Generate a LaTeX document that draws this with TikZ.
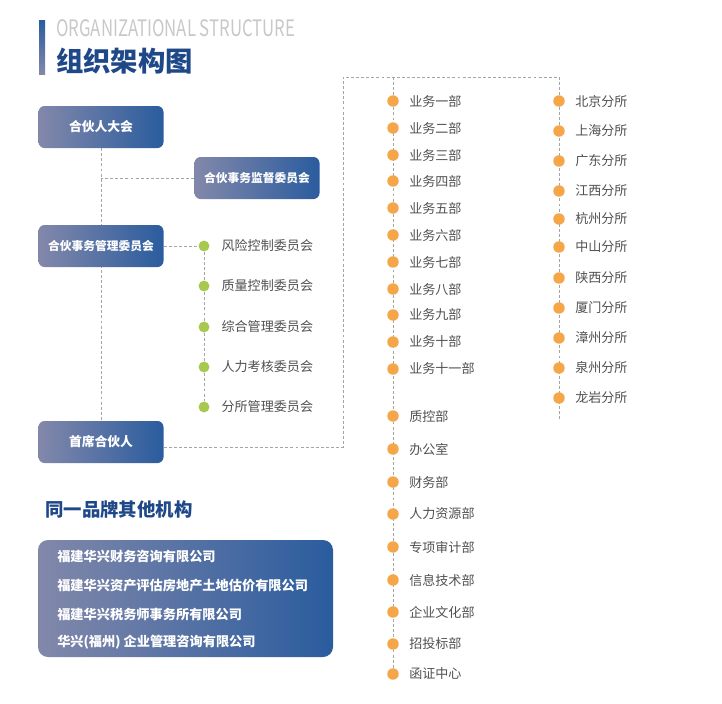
\documentclass[tikz,border=0pt]{standalone}
\usepackage{fontspec}
\setmainfont{Noto Sans CJK SC}
\usetikzlibrary{positioning,backgrounds}
\definecolor{hxblue}{RGB}{42,92,158}
\definecolor{hxgray}{RGB}{130,136,170}
\definecolor{hxgreen}{RGB}{168,201,79}
\definecolor{hxorange}{RGB}{245,166,73}
\definecolor{hxline}{RGB}{165,165,165}
\definecolor{hxtext}{RGB}{80,80,80}
\definecolor{hxtitle}{RGB}{30,72,136}
\definecolor{hxlight}{RGB}{200,200,200}

\begin{document}
\begin{tikzpicture}[
    x=0.75pt, y=-0.75pt,
    box/.style={rectangle, rounded corners=4.5pt, minimum width=93.75pt, minimum height=31.5pt, inner sep=0pt, align=center, left color=hxgray, right color=hxblue, text=white, font=\bfseries\fontsize{9.6}{12}\selectfont},
    longbox/.style={box, font=\bfseries\fontsize{8.8}{12}\selectfont},
    link/.style={draw=hxline, line width=0.6pt, dash pattern=on 2.2pt off 1.6pt},
    gdot/.style={circle, fill=hxgreen, minimum size=8.2pt, inner sep=0pt},
    odot/.style={circle, fill=hxorange, minimum size=8.6pt, inner sep=0pt},
    item/.style={inner sep=0pt, text=hxtext, font=\fontsize{9.8}{12}\selectfont},
    comp/.style={anchor=west, inner sep=0pt, text=white, font=\bfseries\fontsize{9.9}{12}\selectfont}
]
\useasboundingbox (0,0) rectangle (722,704);

% Title
\fill[top color=hxblue, bottom color=hxgray] (39,20) rectangle (45,74);
\node[anchor=west, inner sep=0pt, text=hxlight] (entitle) at (56,28) {\scalebox{0.74}[1]{\fontsize{17}{20}\selectfont ORGANIZATIONAL STRUCTURE}};
\node[anchor=west, inner sep=0pt, text=hxtitle, font=\bfseries\fontsize{20.5}{24}\selectfont] (title) at (56,61) {组织架构图};

% Boxes
\node[box] (meeting) at (101,127) {合伙人大会};
\node[longbox] (supervise) at (257,178) {合伙事务监督委员会};
\node[longbox] (manage) at (101,246) {合伙事务管理委员会};
\node[box] (chief) at (101,442) {首席合伙人};

% Committees
\foreach \n/\y/\t in {1/246/风险控制委员会, 2/286/质量控制委员会, 3/327/综合管理委员会, 4/367/人力考核委员会, 5/407/分所管理委员会} {
  \node[gdot] (g\n) at (204,\y) {};
  \node[item, right=13pt of g\n.center, anchor=west] {\t};
}

% Business departments and functions
\foreach \n/\y/\t in {1/101/业务一部, 2/128/业务二部, 3/155/业务三部, 4/181/业务四部, 5/208/业务五部, 6/235/业务六部, 7/262/业务七部, 8/289/业务八部, 9/315/业务九部, 10/342/业务十部, 11/369/业务十一部, 12/416/质控部, 13/449/办公室, 14/482/财务部, 15/514/人力资源部, 16/547/专项审计部, 17/580/信息技术部, 18/612/企业文化部, 19/644/招投标部, 20/674/函证中心} {
  \node[odot] (d\n) at (393,\y) {};
  \node[item, right=12pt of d\n.center, anchor=west] {\t};
}

% Branches
\foreach \n/\y/\t in {1/101/北京分所, 2/131/上海分所, 3/161/广东分所, 4/191/江西分所, 5/219/杭州分所, 6/247/中山分所, 7/278/陕西分所, 8/308/厦门分所, 9/338/漳州分所, 10/368/泉州分所, 11/398/龙岩分所} {
  \node[odot] (s\n) at (559,\y) {};
  \node[item, right=12pt of s\n.center, anchor=west] {\t};
}

% Other organizations
\node[text=hxtitle, font=\bfseries\fontsize{13.8}{16}\selectfont, anchor=west, inner sep=0pt] (brand) at (45,510) {同一品牌其他机构};
\node[rectangle, rounded corners=7.5pt, left color=hxgray, right color=hxblue, minimum width=221.25pt, minimum height=87.75pt, inner sep=0pt] (others) at (185.5,598.5) {};
\node[comp] (c1) at (57,556) {福建华兴财务咨询有限公司};
\node[comp] (c2) at (57,586) {福建华兴资产评估房地产土地估价有限公司};
\node[comp] (c3) at (57,614) {福建华兴税务师事务所有限公司};
\node[comp] (c4) at (57,642) {华兴(福州) 企业管理咨询有限公司};

% Connectors
\coordinate (tl) at (343,77);
\coordinate (tm) at (393,77);
\coordinate (tr) at (559,77);
\coordinate (send) at (559,421);
\begin{pgfonlayer}{background}
\draw[link] (meeting) -- (chief);
\draw[link] (supervise.west) -- (supervise.west -| meeting);
\draw[link] (manage.east) -- (g1);
\draw[link] (g1) -- (g5);
\draw[link] ([yshift=-3.75pt]chief.east) -- ([yshift=-3.75pt]chief.east -| tl) -- (tl) -- (tr) -- (send);
\draw[link] (tm) -- (d20);
\end{pgfonlayer}

\end{tikzpicture}
\end{document}
